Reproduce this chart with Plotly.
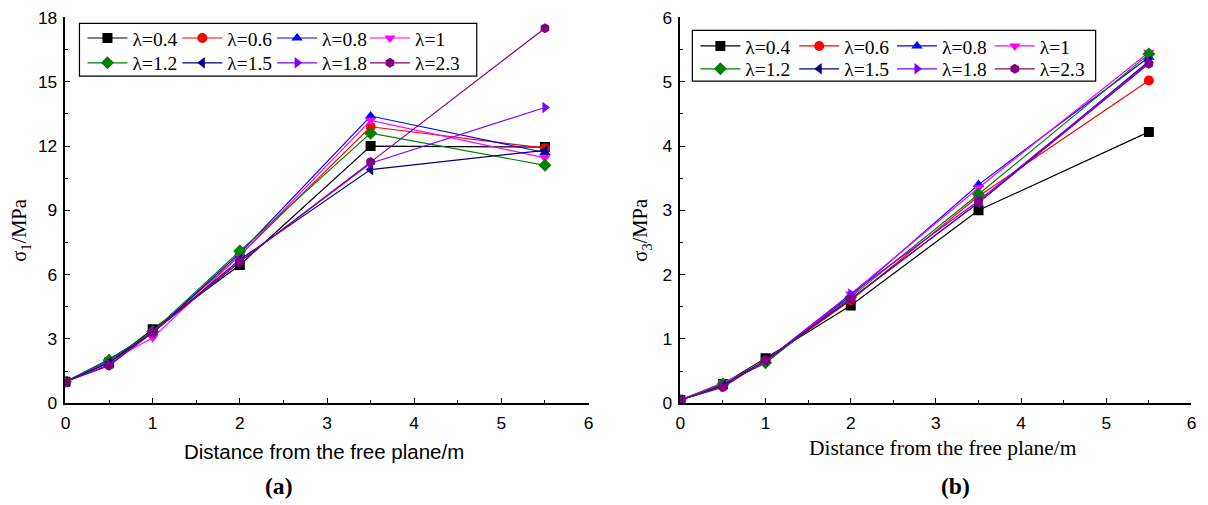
import plotly.graph_objects as go

W, H = 1208, 505

x_dist = [0, 0.5, 1, 2, 3.5, 5.5]
lambdas = ["λ=0.4", "λ=0.6", "λ=0.8", "λ=1", "λ=1.2", "λ=1.5", "λ=1.8", "λ=2.3"]

# panel (a): sigma1 / MPa
s1_l04 = [1.0, 1.90, 3.45, 6.45, 12.0, 11.95]
s1_l06 = [1.0, 1.90, 3.30, 6.90, 12.9, 11.90]
s1_l08 = [1.0, 2.05, 3.30, 7.00, 13.4, 11.70]
s1_l10 = [1.0, 1.95, 3.05, 6.90, 13.2, 11.45]
s1_l12 = [1.0, 2.00, 3.35, 7.10, 12.6, 11.10]
s1_l15 = [1.0, 1.90, 3.30, 6.70, 10.9, 11.80]
s1_l18 = [1.0, 1.80, 3.30, 6.60, 11.2, 13.80]
s1_l23 = [1.0, 1.75, 3.30, 6.60, 11.25, 17.50]

# panel (b): sigma3 / MPa
s3_l04 = [0.05, 0.30, 0.70, 1.52, 3.00, 4.22]
s3_l06 = [0.05, 0.28, 0.66, 1.60, 3.22, 5.02]
s3_l08 = [0.05, 0.30, 0.65, 1.67, 3.40, 5.38]
s3_l10 = [0.05, 0.32, 0.62, 1.70, 3.35, 5.46]
s3_l12 = [0.05, 0.30, 0.63, 1.65, 3.25, 5.43]
s3_l15 = [0.05, 0.27, 0.67, 1.62, 3.12, 5.32]
s3_l18 = [0.05, 0.26, 0.66, 1.70, 3.15, 5.30]
s3_l23 = [0.05, 0.25, 0.67, 1.62, 3.12, 5.28]

sigma1 = [s1_l04, s1_l06, s1_l08, s1_l10, s1_l12, s1_l15, s1_l18, s1_l23]
sigma3 = [s3_l04, s3_l06, s3_l08, s3_l10, s3_l12, s3_l15, s3_l18, s3_l23]

colors = ["#000000", "#FF0000", "#0000FF", "#FF00FF", "#008000", "#000080", "#8000FF", "#800080"]
symbols = ["square", "circle", "triangle-up", "triangle-down", "diamond",
           "triangle-left", "triangle-right", "hexagon"]

# the captured page comes out slightly scaled/shifted; compensate so that
# positions given in target-image pixels land where intended
AX, BX = 0.9935, 3.4
AY, BY = 0.966, 8.5
FS = 1.025  # font/marker compensation


def px_x(p):
    return (p - BX) / AX / W


def px_y(p):
    return 1 - (p - BY) / AY / H


def fs(s):
    return round(s * FS, 1)


SERIF = "Liberation Serif, Times New Roman, serif"
SANS = "Liberation Sans, Arial, sans-serif"

fig = go.Figure()

# legend entry layout (target pixels): line start x per column, centre y per row
col_starts = [[90, 185, 280, 373], [704, 803, 901, 999]]
row_centres = [[37, 62], [45, 68]]

leg_n = 0
for panel, data in enumerate([sigma1, sigma3]):
    xa = "x" if panel == 0 else "x2"
    ya = "y" if panel == 0 else "y2"
    for i, name in enumerate(lambdas):
        leg_n += 1
        key = "legend" if leg_n == 1 else f"legend{leg_n}"
        fig.add_trace(go.Scatter(
            x=x_dist, y=data[i], name=name, mode="lines+markers",
            xaxis=xa, yaxis=ya, legend=key,
            line=dict(color=colors[i], width=1.2),
            marker=dict(symbol=symbols[i], size=10, color=colors[i], line=dict(width=0)),
        ))
        col, row = i % 4, i // 4
        fig.update_layout(**{key: dict(
            x=px_x(col_starts[panel][col] - 9), y=px_y(row_centres[panel][row]),
            xanchor="left", yanchor="middle", orientation="v",
            bgcolor="rgba(0,0,0,0)", borderwidth=0, itemwidth=40,
            font=dict(family=SERIF, size=fs(19), color="black"),
        )})

axis_common = dict(
    showline=True, linecolor="black", linewidth=1.5, mirror=False,
    ticks="inside", ticklen=5, tickwidth=1.2, tickcolor="black",
    showgrid=False, zeroline=False, ticklabelstandoff=3,
    ticklabeloverflow="allow",
    tickfont=dict(family=SANS, size=fs(17), color="black"),
)

fig.update_layout(
    width=W, height=H, margin=dict(l=0, r=0, t=0, b=0),
    paper_bgcolor="white", plot_bgcolor="white",
    showlegend=True,
    xaxis=dict(domain=[px_x(64), px_x(588)], range=[0, 6], dtick=1, anchor="y",
               minor=dict(dtick=0.5, ticks="inside", ticklen=3, tickcolor="black"),
               **axis_common),
    yaxis=dict(domain=[px_y(404), px_y(16)], range=[0, 18], dtick=3, anchor="x",
               minor=dict(dtick=1.5, ticks="inside", ticklen=3, tickcolor="black"),
               **axis_common),
    xaxis2=dict(domain=[px_x(680), px_x(1192)], range=[0, 6], dtick=1, anchor="y2",
                minor=dict(dtick=0.5, ticks="inside", ticklen=3, tickcolor="black"),
                **axis_common),
    yaxis2=dict(domain=[px_y(404), px_y(16)], range=[0, 6], dtick=1, anchor="x2",
                minor=dict(dtick=0.5, ticks="inside", ticklen=3, tickcolor="black"),
                **axis_common),
)

# legend frames
fig.add_shape(type="rect", xref="paper", yref="paper",
              x0=px_x(78), x1=px_x(476), y0=px_y(75), y1=px_y(22),
              line=dict(color="black", width=1.2))
fig.add_shape(type="rect", xref="paper", yref="paper",
              x0=px_x(692), x1=px_x(1096), y0=px_y(80), y1=px_y(29),
              line=dict(color="black", width=1.2))

annos = [
    dict(text="Distance from the free plane/m", x=px_x(323), y=px_y(453),
         font=dict(family=SANS, size=fs(20), color="black")),
    dict(text="Distance from the free plane/m", x=px_x(943), y=px_y(449),
         font=dict(family=SERIF, size=fs(21), color="black")),
    dict(text="σ<sub>1</sub>/MPa", x=px_x(19), y=px_y(230), textangle=-90,
         font=dict(family=SERIF, size=fs(20), color="black")),
    dict(text="σ<sub>3</sub>/MPa", x=px_x(641), y=px_y(230), textangle=-90,
         font=dict(family=SERIF, size=fs(20), color="black")),
    dict(text="<b>(a)</b>", x=px_x(278), y=px_y(487),
         font=dict(family=SERIF, size=fs(23), color="black")),
    dict(text="<b>(b)</b>", x=px_x(956), y=px_y(487),
         font=dict(family=SERIF, size=fs(23), color="black")),
]
for a in annos:
    fig.add_annotation(xref="paper", yref="paper", xanchor="center", yanchor="middle",
                       showarrow=False, **a)

fig.write_html("out.html")
